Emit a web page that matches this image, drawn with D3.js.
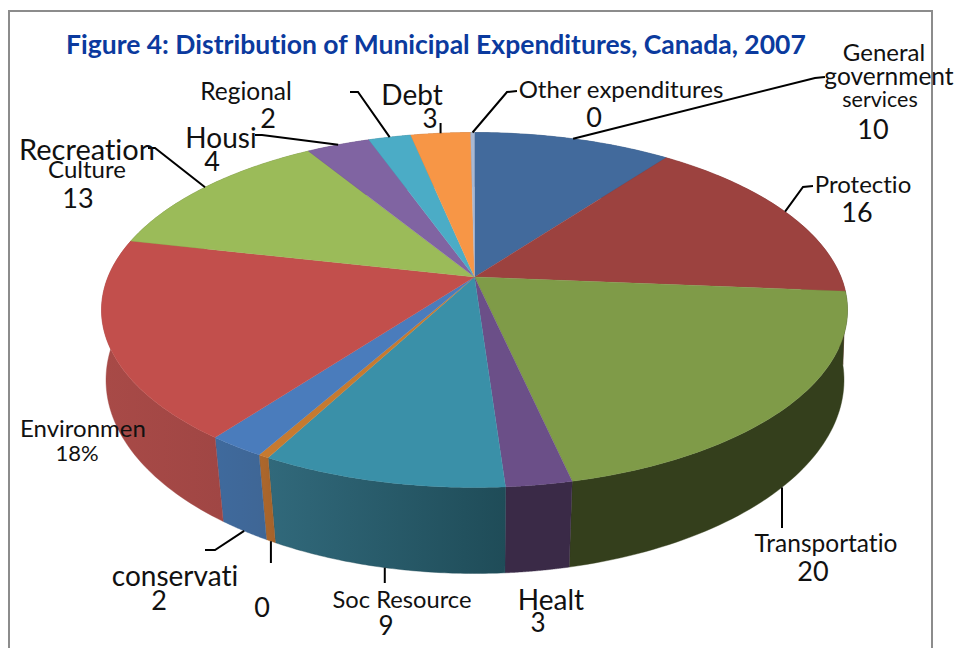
<!DOCTYPE html>
<html><head><meta charset="utf-8">
<script src="https://cdn.jsdelivr.net/npm/d3@7"></script>
<style>html,body{margin:0;padding:0;background:#fff;overflow:hidden}svg{display:block}text{font-family:Lato,"Open Sans",sans-serif;fill:#111;font-variant-ligatures:none;font-kerning:normal}</style>
</head><body><div id="c"></div>
<script>
// data
const categories = ["General government services","Protection","Transportation","Health","Soc Resource","Other 0","Environment conservation","Environment","Recreation Culture","Housing","Regional","Debt","Other expenditures"];
const seriesValues = [10.25,16.05,20.2,2.4,8.9,0.4,2.1,18.2,12.7,3.3,2.2,3.1,0.2];
const topColors = ["#426a9c","#9c423f","#7f9b48","#6b4f88","#3a90a8","#c67a30","#4a7cbc","#c24f4c","#9bbb59","#8064a2","#4bacc6","#f79646","#a9b8d2"];
const wallStart = ["#345478","#7a3331","#343f1c","#3a2a47","#31697b","#ad682c","#3f6a9d","#a84a47","#6f873f","#5d4876","#367d90","#b36d33","#7b8699"];
const wallEnd   = ["#345478","#7a3331","#343f1c","#3a2a47","#1f4c58","#a5622a","#3f6695","#a04644","#6f873f","#5d4876","#367d90","#b36d33","#7b8699"];
const titleText = "Figure 4: Distribution of Municipal Expenditures, Canada, 2007";

// geometry of the perspective pie
const topFace = {cx:474.5, cy:310, rx:373, ry:177.5, k:0.186};
const baseFace = {cx:475, cy:380, rx:369, ry:193.5, k:0.16};
function project(a, f){
  const X = Math.sin(a), Y = -Math.cos(a), d = 1 - f.k*Y;
  return [f.cx + f.rx*X*Math.sqrt(1-f.k*f.k)/d, f.cy + f.ry*(Y - f.k)/d];
}
const apex = [topFace.cx, topFace.cy - topFace.ry*topFace.k];

const W = 957, H = 648;
const svg = d3.select("#c").append("svg").attr("width",W).attr("height",H);
svg.append("rect").attr("x",9).attr("y",11).attr("width",923).attr("height",660)
  .attr("fill","none").attr("stroke","#8c8c8c").attr("stroke-width",2);

const arcs = d3.pie().sort(null).value(d=>d).startAngle(0).endAngle(2*Math.PI)(seriesValues);
const line = d3.line();
const sample = (a0,a1)=>d3.range(0,61).map(i=>a0+(a1-a0)*i/60);

const defs = svg.append("defs");
arcs.forEach((s,i)=>{
  const g = defs.append("linearGradient").attr("id","w"+i);
  g.append("stop").attr("offset",0).attr("stop-color",wallStart[i]);
  g.append("stop").attr("offset",1).attr("stop-color",wallEnd[i]);
});

svg.append("g").selectAll("path").data(arcs).join("path")
  .attr("d",s=>{
    const as = sample(s.startAngle,s.endAngle);
    return line(as.map(a=>project(a,topFace)).concat(as.slice().reverse().map(a=>project(a,baseFace))))+"Z";
  })
  .attr("fill",(s,i)=>`url(#w${i})`).attr("stroke",(s,i)=>wallEnd[i]).attr("stroke-width",0.4);

svg.append("g").selectAll("path").data(arcs).join("path")
  .attr("d",s=>line([apex].concat(sample(s.startAngle,s.endAngle).map(a=>project(a,topFace))))+"Z")
  .attr("fill",(s,i)=>topColors[i]).attr("stroke",(s,i)=>topColors[i]).attr("stroke-width",0.3);

// leader lines: slice index, face the leader leaves from, then its elbow points (null x = straight down/up)
const leaders = [
  [0,"t",[[815,78],[825,77]]],
  [1,"t",[[803,187],[813,186]]],
  [2,"b",[[null,528]]],
  [4,"b",[[null,583]]],
  [5,"b",[[null,563]]],
  [6,"b",[[215,550],[205,550]]],
  [8,"t",[[155,148],[148,148]]],
  [9,"t",[[262,135],[255,135]]],
  [10,"t",[[358,92],[350,92]]],
  [11,"t",[[null,123]]],
  [12,"t",[[507,92],[517,91]]]
];
svg.append("g").selectAll("path").data(leaders).join("path")
  .attr("d",d=>{
    const s = arcs[d[0]], mid=(s.startAngle+s.endAngle)/2;
    const p = project(mid,d[1]==="t"?topFace:baseFace);
    return line([p].concat(d[2].map(e=>[e[0]===null?p[0]:e[0],e[1]])));
  })
  .attr("fill","none").attr("stroke","#000").attr("stroke-width",2);

// text placement: string, centre x, baseline y, size
const labels = [
  ["General",884,61,24],["government",889,85,24.5],["services",880,107,21.5],["10",873,139,27],
  ["Other expenditures",621,98,24],["0",594,127,27],
  ["Protectio",863,193,24],["16",857,222,27],
  ["Transportatio",826,552,24.5],["20",813,581,27],
  ["Healt",551,610,28],["3",538,632,26],
  ["Soc Resource",402,608,23.7],["9",386,635,26],
  ["0",262,617,27],
  ["conservati",175,586,28],["2",159,610,27],
  ["Environmen",83,437,24],["18%",77,461,22],
  ["Recreation",87,160,29],["Culture",87,178,24],["13",78,208,27],
  ["Housi",221,148,28],["4",212,171,27],
  ["Regional",246,100,24.5],["2",268,128,27],
  ["Debt",412,105,28],["3",430,128,26]
];
svg.append("g").selectAll("text").data(labels).join("text")
  .attr("x",d=>d[1]).attr("y",d=>d[2]).attr("font-size",d=>d[3]).attr("text-anchor","middle").text(d=>d[0]);

svg.append("text").attr("x",66).attr("y",54).attr("font-size",26.5).attr("font-weight",700)
  .style("fill","#0b3a9e").text(titleText);
</script></body></html>
